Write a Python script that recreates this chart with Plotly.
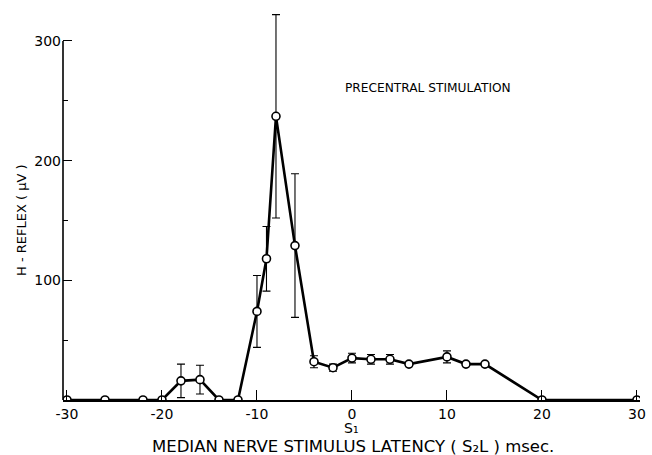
import plotly.graph_objects as go

# Data
latency = [-30, -26, -22, -20, -18, -16, -14, -12, -10, -9, -8, -6, -4, -2, 0, 2, 4, 6, 10, 12, 14, 20, 30]
h_reflex = [0, 0, 0, 0, 16, 17, 0, 0, 74, 118, 237, 129, 32, 27, 35, 34, 34, 30, 36, 30, 30, 0, 0]
err = [None, None, None, None, 14, 12, None, None, 30, 27, 85, 60, 5, 3, 4, 4, 4, None, 5, None, None, None, None]

x_ticks = [-30, -20, -10, 0, 10, 20, 30]
x_ticklabels = ["-30", "-20", "-10", "0", "10", "20", "30"]
y_ticks = [100, 200, 300]
y_ticklabels = ["100", "200", "300"]
y_minor_ticks = [50, 150, 250]

FONT = "DejaVu Sans"

fig = go.Figure()
fig.add_trace(go.Scatter(
    x=latency, y=h_reflex, mode="lines+markers",
    line=dict(color="black", width=2.6),
    marker=dict(symbol="circle", size=8, color="white", line=dict(width=1.6, color="black")),
    error_y=dict(type="data", array=err, symmetric=True, color="black", thickness=1.1, width=4),
    showlegend=False,
))

fig.update_layout(
    width=652, height=455,
    margin=dict(l=63, r=12, t=5, b=55),
    paper_bgcolor="white", plot_bgcolor="white",
    font=dict(family=FONT, color="black", size=13),
    xaxis=dict(
        range=[-30.42, 30.32], tickvals=x_ticks, ticktext=x_ticklabels,
        ticks="inside", ticklen=10, tickwidth=1.2, tickcolor="black",
        showline=True, linecolor="black", linewidth=1.5, automargin=False,
        showgrid=False, zeroline=False, ticklabelstandoff=0,
        tickfont=dict(size=14, family=FONT, color="black"),
    ),
    yaxis=dict(
        range=[0, 330], tickvals=y_ticks, ticktext=y_ticklabels,
        ticks="inside", ticklen=9, tickwidth=1.2, tickcolor="black",
        minor=dict(tickvals=y_minor_ticks, ticks="inside", ticklen=5, tickwidth=1.2, tickcolor="black", showgrid=False),
        showline=False, showgrid=False, zeroline=False, automargin=False,
        ticklabelstandoff=1,
        tickfont=dict(size=14, family=FONT, color="black"),
    ),
)

# left axis line only up to 300
fig.add_shape(type="line", xref="paper", yref="y", x0=0, x1=0, y0=0, y1=300,
              line=dict(color="black", width=1.6))

fig.add_annotation(text="PRECENTRAL STIMULATION", xref="paper", yref="paper",
                   x=(428 - 63) / 577, y=(400 - 88) / 395, xanchor="center", yanchor="middle",
                   showarrow=False, font=dict(size=12.2, family=FONT, color="black"))
fig.add_annotation(text="H - REFLEX ( μV )", xref="paper", yref="paper",
                   x=(21 - 63) / 577, y=(400 - 220) / 395, xanchor="center", yanchor="middle",
                   textangle=-90, showarrow=False,
                   font=dict(size=13, family=FONT, color="black"))
fig.add_annotation(text="S₁", xref="x", yref="paper",
                   x=0, y=(400 - 428) / 395, xanchor="center", yanchor="middle", showarrow=False,
                   font=dict(size=14, family=FONT, color="black"))
fig.add_annotation(text="MEDIAN NERVE STIMULUS LATENCY ( S₂L ) msec.", xref="paper", yref="paper",
                   x=(353 - 63) / 577, y=(400 - 446) / 395, xanchor="center", yanchor="middle",
                   showarrow=False, font=dict(size=16.5, family=FONT, color="black"))

fig.write_html("out.html", config={"displayModeBar": False},
               post_script="document.body.style.margin='0px';")
